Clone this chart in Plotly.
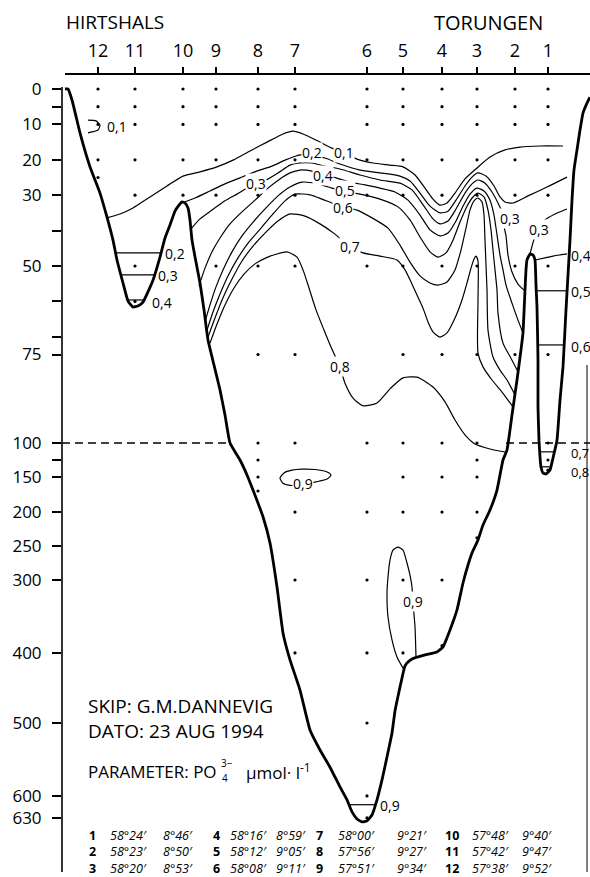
import numpy as np
import plotly.graph_objects as go

# ---------------- figure geometry ----------------
W, H = 590, 877
ML, MT = 62, 74
PW, PH = W - ML, H - MT
FONT = "Open Sans"

# ---------------- depth axis (0-100 m stretched, >100 m compressed) ----------------
DEPTH_KNOTS = [0, 100, 150, 200, 250, 300, 400, 500, 600, 630, 700]
AXIS_KNOTS = [0, 100, 109.6, 119.5, 129.1, 138.7, 159.3, 179.1, 199.7, 205.9, 220.4]
TICK_DEPTHS = [0, 10, 20, 30, 50, 75, 100, 150, 200, 250, 300, 400, 500, 600, 630]
TICK_TEXT = ["0", "10", "20", "30", "50", "75", "100", "150", "200", "250", "300", "400", "500", "600", "630"]
MINOR_DEPTHS = [5, 40, 60, 70, 125]

# ---------------- stations ----------------
STATION_NO = ["1", "2", "3", "4", "5", "6", "7", "8", "9", "10", "11", "12"]
STATION_X = [548, 515, 477, 442, 403, 367, 295, 258, 216, 183, 135, 98]

DOTS_1 = [0, 5, 10, 20, 30, 50, 75, 100, 125, 140]
DOTS_2 = [0, 5, 10, 20, 30, 50, 75]
DOTS_3 = [0, 5, 10, 20, 30, 50, 75, 100, 125, 150, 200, 238]
DOTS_4 = [0, 5, 10, 20, 30, 50, 75, 100, 150, 200, 300, 390]
DOTS_5 = [0, 5, 10, 20, 30, 50, 75, 100, 150, 200, 300, 400]
DOTS_6 = [0, 5, 10, 20, 30, 50, 100, 200, 300, 400, 500, 600, 630]
DOTS_7 = [0, 5, 10, 20, 30, 50, 75, 100, 150, 200, 300, 400]
DOTS_8 = [0, 5, 10, 20, 30, 50, 75, 100, 125, 150, 170]
DOTS_9 = [0, 5, 10, 20, 30, 50]
DOTS_10 = [0, 5, 10, 20, 30]
DOTS_11 = [0, 5, 10, 20, 30, 50, 60]
DOTS_12 = [0, 5, 10, 20, 25]

# ---------------- bottom profile (distance, depth m) ----------------
BOTTOM_X = [65, 68, 72, 80, 90, 100, 107, 113, 117, 123, 128, 133, 138, 143, 153, 160, 165, 170, 175, 179,
            182, 185, 188, 190, 192, 196, 200, 204, 208, 214, 220, 225, 230, 240, 247, 253, 263, 270, 277, 283,
            290, 300, 310, 320, 330, 340, 347, 352, 357, 362, 367, 372, 377, 382, 387, 392, 395, 397, 402, 405,
            408, 412, 425, 437, 443, 450, 457, 463, 468, 472, 478, 483, 490, 497, 503, 507, 512, 517, 521, 523,
            525, 526, 527, 530, 533, 535, 536, 537, 538, 538, 539, 540, 541, 543, 546, 550, 553, 557, 560, 563,
            566, 570, 572, 574, 577, 580, 583, 587, 590]
BOTTOM_D = [0, 0, 3.1, 12.4, 22.0, 29.4, 36.2, 42.7, 48.3, 54.8, 59.9, 61.6, 61.3, 60.2, 54.0, 47.5, 42.1, 38.4, 34.5, 32.8,
            31.9, 32.2, 33.6, 37.0, 42.7, 48.9, 54.8, 62.4, 70.9, 78.0, 85.0, 92.1, 100, 125, 147, 168.6, 207, 245.6, 309.6, 372.6,
            410, 453, 509.6, 537, 560.6, 587.7, 605.4, 621.8, 631.4, 635.5, 634.1, 626, 605.4, 578, 546.6, 513.7, 482.8, 468.5, 435.7, 418.6,
            412.9, 408.6, 402.9, 398.6, 391.8, 368.5, 341.1, 304.1, 277.9, 260.3, 241.2, 219.1, 197.1, 168.6, 125, 110.3, 92.1, 82.2, 73.7, 68.9,
            56.8, 51.1, 48.3, 46.6, 46.9, 48.3, 55.4, 61.6, 76.6, 89.8, 99.2, 120.6, 135.3, 144.1, 145.6, 139.7, 122, 99.2, 87.9, 78.5,
            62.4, 42.7, 31.4, 22.9, 17.2, 11.6, 6.8, 4.0, 2.3]

# 100 m reference line extents (distance)
REF100_X = [62, 230, None, 506, 590]
REF100_D = [100, 100, None, 100, 100]

# ---------------- isolines of PO4 (umol/l) ----------------
C01_X = [107, 120, 133, 150, 167, 183, 200, 217, 233, 250, 267, 283, 293, 303, 318, 332, 344, 357, 373, 390,
         403, 415, 425, 433, 440, 447, 455, 465, 477, 490, 505, 520, 540, 563]
C01_D = [36.4, 35.3, 33.6, 30.5, 27.4, 24.6, 23.4, 22.0, 20.1, 17.5, 15.0, 12.7, 11.9, 12.7, 14.7, 16.7, 18.0, 19.8, 20.9, 21.5,
         22.0, 24.3, 28.0, 31.1, 32.8, 32.2, 29.4, 25.4, 22.3, 19.2, 17.2, 16.4, 16.1, 16.1]
C01S_X = [88, 96, 100, 98, 88]
C01S_D = [8.8, 9.0, 10.2, 11.6, 12.4]

C02_X = [182, 195, 210, 225, 240, 255, 272, 285, 293, 300, 312, 325, 340, 360, 380, 400, 410, 420, 430, 440,
         448, 456, 465, 472, 478, 486, 494, 500, 505, 513, 528, 547, 567]
C02_D = [32.2, 30.8, 28.8, 26.8, 25.1, 23.4, 21.8, 20.1, 19.2, 18.6, 18.9, 19.5, 21.2, 22.9, 23.7, 24.6, 26.0, 29.4, 33.1, 35.0,
         34.5, 31.4, 27.4, 24.9, 23.7, 24.6, 27.4, 30.5, 31.9, 32.2, 30.2, 27.7, 24.9]
C02L_X = [115.6, 161.1]
C02L_D = [46.3, 46.3]

C03_X = [191, 200, 212, 225, 237, 246, 256, 266, 278, 290, 300, 312, 325, 340, 360, 380, 400, 412, 424, 433,
         440, 448, 456, 465, 472, 478, 485, 492, 498, 502, 504, 506, 508, 512, 518, 524]
C03_D = [39.5, 36.7, 34.2, 31.6, 29.7, 28.2, 26.8, 25.7, 23.7, 21.5, 20.9, 20.9, 21.8, 22.6, 24.3, 25.7, 26.6, 28.5, 33.1, 36.7,
         38.1, 37.3, 33.9, 29.4, 26.8, 25.7, 26.6, 29.1, 32.2, 34.7, 38.7, 41.5, 46.9, 51.7, 55.1, 56.8]
C03R_X = [530, 534, 539, 545, 555, 567]
C03R_D = [46.6, 42.5, 39.8, 37.0, 35.3, 33.9]
C03L_X = [120.9, 154.6]
C03L_D = [52.5, 52.5]

C04_X = [199, 205, 212, 220, 230, 242, 255, 268, 280, 290, 300, 312, 323, 336, 350, 365, 380, 395, 408, 420,
         430, 440, 448, 456, 463, 470, 477, 484, 490, 494, 497, 500, 503, 506, 512, 518, 523]
C04_D = [55.6, 50.6, 46.0, 42.1, 38.1, 34.7, 31.4, 28.0, 25.4, 23.7, 22.9, 23.2, 24.3, 25.1, 26.3, 27.1, 28.0, 29.1, 31.4, 35.6,
         39.8, 41.5, 40.7, 37.3, 33.1, 29.7, 28.0, 28.8, 31.4, 35.6, 41.2, 46.9, 51.1, 55.4, 60.5, 65.3, 68.9]
C04R_X = [535, 545, 553, 567]
C04R_D = [48.3, 47.7, 47.2, 46.6]
C04L_X = [127.7, 144]
C04L_D = [59.6, 59.6]

C05_X = [205, 210, 216, 223, 232, 242, 254, 266, 278, 290, 302, 318, 332, 345, 360, 380, 398, 410, 420, 430,
         438, 446, 453, 460, 467, 473, 478, 484, 488, 491, 493, 495, 497, 498, 503, 512, 518]
C05_D = [65.8, 61.0, 55.9, 51.1, 46.0, 41.5, 37.3, 33.6, 30.2, 27.7, 26.3, 26.8, 28.0, 29.1, 29.7, 31.1, 33.3, 37.0, 41.8, 46.0,
         47.5, 46.3, 42.7, 37.6, 33.1, 30.5, 29.4, 30.5, 34.2, 39.8, 45.5, 51.1, 56.8, 63.3, 71.8, 76.6, 79.9]
C05T_X = [536.3, 567.1]
C05T_D = [57, 57]

C06_X = [207, 213, 220, 228, 238, 249, 261, 273, 285, 295, 310, 322, 332, 343, 357, 372, 388, 400, 410, 420,
         430, 438, 447, 455, 461, 466, 470, 474, 478, 482, 484, 485, 486, 487, 488, 493, 500, 507, 515]
C06_D = [68.1, 63.0, 57.9, 52.8, 47.7, 43.2, 39.3, 35.3, 31.6, 29.7, 29.9, 31.1, 32.2, 33.3, 34.2, 36.4, 39.3, 44.1, 48.9, 52.8,
         54.8, 55.4, 54.5, 51.1, 45.5, 39.3, 34.2, 31.6, 30.8, 31.9, 35.6, 42.7, 49.7, 56.8, 68.1, 75.7, 79.4, 82.2, 86.4]
C06T_X = [537.7, 564.1]
C06T_D = [72.3, 72.3]

C07_X = [208, 215, 223, 232, 242, 253, 265, 278, 290, 305, 320, 335, 350, 363, 380, 397, 405, 411, 417, 423,
         428, 433, 440, 447, 455, 462, 467, 471, 474, 476, 478, 478, 478, 483, 492, 502, 513]
C07_D = [70.1, 64.7, 59.0, 53.7, 48.6, 44.4, 40.7, 37.3, 35.3, 35.9, 38.1, 41.0, 44.6, 46.3, 47.2, 48.3, 51.1, 54.5, 58.2, 61.9,
         65.8, 68.6, 70.1, 68.9, 64.7, 59.6, 54.8, 50.6, 48.0, 47.2, 48.6, 59.6, 74.6, 78.5, 82.2, 85.6, 89.8]
C07T_X = [539.6, 554.6]
C07T_D = [113, 113]

C08_X = [210, 217, 225, 234, 244, 255, 266, 277, 287, 297, 303, 309, 316, 324, 331, 340, 345, 353, 363, 377,
         390, 403, 417, 433, 445, 455, 465, 475, 490, 505]
C08_D = [71.8, 66.4, 61.0, 56.2, 52.3, 49.4, 47.7, 46.6, 46.0, 47.5, 51.1, 56.2, 62.4, 68.1, 72.9, 78.5, 83.1, 87.3, 89.5, 88.7,
         84.7, 81.6, 81.4, 84.2, 88.4, 93.5, 97.7, 101.5, 108.8, 113.2]
C08T_X = [541, 550.8]
C08T_D = [135, 135]

C09A_X = [280, 284, 292, 302, 315, 326, 331, 327, 316, 302, 290, 283, 280]
C09A_D = [151.4, 144, 140, 138.5, 139, 142, 147, 153, 157, 161, 162, 159, 151.4]
C09B_X = [404, 397, 392, 388, 387, 388, 390, 393, 398, 403, 407, 410, 412, 413, 415, 416]
C09B_D = [424, 405.7, 382, 350.7, 317.8, 295.6, 270.6, 256, 251.5, 256, 275, 293, 309.6, 331.5, 364, 406]
C09C_X = [349, 376]
C09C_D = [612, 612]

# isoline labels
LABEL_TXT = ["0,1", "0,1", "0,2", "0,3", "0,4", "0,5", "0,6", "0,7", "0,8", "0,3", "0,3",
             "0,4", "0,5", "0,6", "0,7", "0,8", "0,2", "0,3", "0,4", "0,9", "0,9", "0,9"]
LABEL_X = [117, 344, 312, 256, 323, 345, 343, 350, 340, 510, 539,
           569, 569, 569, 569, 569, 175, 168, 162, 303, 413, 390]
LABEL_D = [10.7, 18.0, 17.8, 26.8, 24.3, 28.6, 33.6, 44.6, 78.5, 36.7, 39.8,
           46.9, 57.3, 72.6, 114.2, 142.8, 46.6, 52.8, 60.2, 160, 329, 613]

# station position table
TABLE_NO = ["1", "2", "3", "4", "5", "6", "7", "8", "9", "10", "11", "12"]
TABLE_LAT = ["58°24′", "58°23′", "58°20′", "58°16′", "58°12′", "58°08′",
             "58°00′", "57°56′", "57°51′", "57°48′", "57°42′", "57°38′"]
TABLE_LON = ["8°46′", "8°50′", "8°53′", "8°59′", "9°05′", "9°11′",
             "9°21′", "9°27′", "9°34′", "9°40′", "9°47′", "9°52′"]


def z(d):
    """depth (m) -> position on the drawn (piecewise) depth axis"""
    return np.interp(np.asarray(d, dtype=float), DEPTH_KNOTS, AXIS_KNOTS)


def zl(seq):
    return [None if v is None else float(z(v)) for v in seq]


def pxp(X):
    return (X - ML) / PW


def pyp(Y):
    return (H - Y) / PH


fig = go.Figure()

contours = [(C01_X, C01_D), (C01S_X, C01S_D), (C02_X, C02_D), (C02L_X, C02L_D),
            (C03_X, C03_D), (C03R_X, C03R_D), (C03L_X, C03L_D),
            (C04_X, C04_D), (C04R_X, C04R_D), (C04L_X, C04L_D),
            (C05_X, C05_D), (C05T_X, C05T_D), (C06_X, C06_D), (C06T_X, C06T_D),
            (C07_X, C07_D), (C07T_X, C07T_D), (C08_X, C08_D), (C08T_X, C08T_D),
            (C09A_X, C09A_D), (C09B_X, C09B_D), (C09C_X, C09C_D)]
for cx, cd in contours:
    fig.add_trace(go.Scatter(x=cx, y=zl(cd), mode="lines",
                             line=dict(color="black", width=1.2, shape="spline", smoothing=0.6),
                             hoverinfo="skip", showlegend=False))

fig.add_trace(go.Scatter(x=REF100_X, y=zl(REF100_D), mode="lines",
                         line=dict(color="black", width=1.5, dash="8px,5px"),
                         hoverinfo="skip", showlegend=False, connectgaps=False))

fig.add_trace(go.Scatter(x=BOTTOM_X, y=zl(BOTTOM_D), mode="lines",
                         line=dict(color="black", width=2.8, shape="spline", smoothing=0.4),
                         hoverinfo="skip", showlegend=False))

dots = [DOTS_1, DOTS_2, DOTS_3, DOTS_4, DOTS_5, DOTS_6, DOTS_7, DOTS_8, DOTS_9, DOTS_10, DOTS_11, DOTS_12]
dx, dy = [], []
for sx, dl in zip(STATION_X, dots):
    for d in dl:
        dx.append(sx)
        dy.append(float(z(d)))
fig.add_trace(go.Scatter(x=dx, y=dy, mode="markers",
                         marker=dict(color="black", size=3.2),
                         hoverinfo="skip", showlegend=False))

ann = []
no_bg = {0, 11, 12, 13, 14, 15, 16, 17, 18, 21}
for i, (t, lx, ld) in enumerate(zip(LABEL_TXT, LABEL_X, LABEL_D)):
    a = dict(x=lx, y=float(z(ld)), xref="x", yref="y", text=t, showarrow=False,
             font=dict(family=FONT, size=14, color="black"), xanchor="center", yanchor="middle")
    if 11 <= i <= 15:
        a["xanchor"] = "left"
    if i in (14, 15):
        a["font"] = dict(family=FONT, size=13, color="black")
    if i not in no_bg:
        a["bgcolor"] = "white"
        a["borderpad"] = 0
    ann.append(a)

# place names
ann.append(dict(x=pxp(115), y=pyp(22), xref="paper", yref="paper", text="HIRTSHALS", showarrow=False,
                font=dict(family=FONT, size=19, color="black"), xanchor="center", yanchor="middle"))
ann.append(dict(x=pxp(488), y=pyp(23), xref="paper", yref="paper", text="TORUNGEN", showarrow=False,
                font=dict(family=FONT, size=20, color="black"), xanchor="center", yanchor="middle"))

# info block
for txt, yy, fs in [("SKIP: G.M.DANNEVIG", 706, 19), ("DATO: 23 AUG 1994", 731, 19), ("PARAMETER: PO", 771, 17)]:
    ann.append(dict(x=pxp(86), y=pyp(yy), xref="paper", yref="paper", text=txt, showarrow=False,
                    font=dict(family=FONT, size=fs, color="black"), xanchor="left", yanchor="middle"))
ann.append(dict(x=pxp(219), y=pyp(763), xref="paper", yref="paper", text="3−", showarrow=False,
                font=dict(family=FONT, size=10, color="black"), xanchor="left", yanchor="middle"))
ann.append(dict(x=pxp(220), y=pyp(778), xref="paper", yref="paper", text="4", showarrow=False,
                font=dict(family=FONT, size=10, color="black"), xanchor="left", yanchor="middle"))
ann.append(dict(x=pxp(244), y=pyp(771), xref="paper", yref="paper", text="μmol· l<sup>-1</sup>", showarrow=False,
                font=dict(family=FONT, size=17, color="black"), xanchor="left", yanchor="middle"))

# station table: one text block per column (three rows each)
COL_NO = [87, 211, 314, 443]
COL_LAT = [108, 228, 336, 470]
COL_LON = [161, 274, 395, 520]
TABLE_MID_Y = 851.5
for c in range(4):
    rows = range(3 * c, 3 * c + 3)
    no_txt = "<br>".join("<b>" + TABLE_NO[i] + "</b>" for i in rows)
    lat_txt = "<br>".join("<i>" + TABLE_LAT[i] + "</i>" for i in rows)
    lon_txt = "<br>".join("<i>" + TABLE_LON[i] + "</i>" for i in rows)
    for txt, xx in [(no_txt, COL_NO[c]), (lat_txt, COL_LAT[c]), (lon_txt, COL_LON[c])]:
        ann.append(dict(x=pxp(xx), y=pyp(TABLE_MID_Y), xref="paper", yref="paper", text=txt,
                        showarrow=False, font=dict(family=FONT, size=12.5, color="black"),
                        xanchor="left", yanchor="middle", align="left"))

shapes = [
    dict(type="line", xref="paper", yref="paper", x0=pxp(65), x1=1.0, y0=1.0, y1=1.0,
         line=dict(color="black", width=1.8)),
    dict(type="line", xref="paper", yref="paper", x0=0.0, x1=0.0, y0=pyp(87), y1=pyp(872),
         line=dict(color="black", width=1.6)),
    dict(type="line", xref="paper", yref="paper", x0=pxp(587), x1=pxp(587), y0=pyp(365), y1=pyp(872),
         line=dict(color="black", width=1.0)),
]

ymin = (MT - 89) / 3.54
ymax = (H - 89) / 3.54

fig.update_layout(
    width=W, height=H,
    margin=dict(l=ML, r=0, t=MT, b=0, pad=0),
    paper_bgcolor="white", plot_bgcolor="white",
    showlegend=False,
    annotations=ann, shapes=shapes,
    font=dict(family=FONT, color="black"),
    xaxis=dict(range=[ML, W], side="top", tickmode="array", tickvals=STATION_X, ticktext=STATION_NO,
               ticks="outside", ticklen=6, tickwidth=1.5, tickcolor="black",
               showline=False, showgrid=False, zeroline=False,
               tickfont=dict(family=FONT, size=18, color="black"), ticklabelstandoff=3,
               fixedrange=True),
    yaxis=dict(range=[ymax, ymin], tickmode="array", tickvals=[float(v) for v in z(TICK_DEPTHS)],
               ticktext=TICK_TEXT, ticks="outside", ticklen=9, tickwidth=1.5, tickcolor="black",
               minor=dict(tickmode="array", tickvals=[float(v) for v in z(MINOR_DEPTHS)],
                          ticks="outside", ticklen=9, tickwidth=1.5, tickcolor="black", showgrid=False),
               showline=False, showgrid=False, zeroline=False,
               tickfont=dict(family=FONT, size=17, color="black"), ticklabelstandoff=7,
               fixedrange=True),
)

fig.write_html("out.html", config={"displayModeBar": False},
               post_script="document.body.style.margin='0';document.body.style.padding='0';")
